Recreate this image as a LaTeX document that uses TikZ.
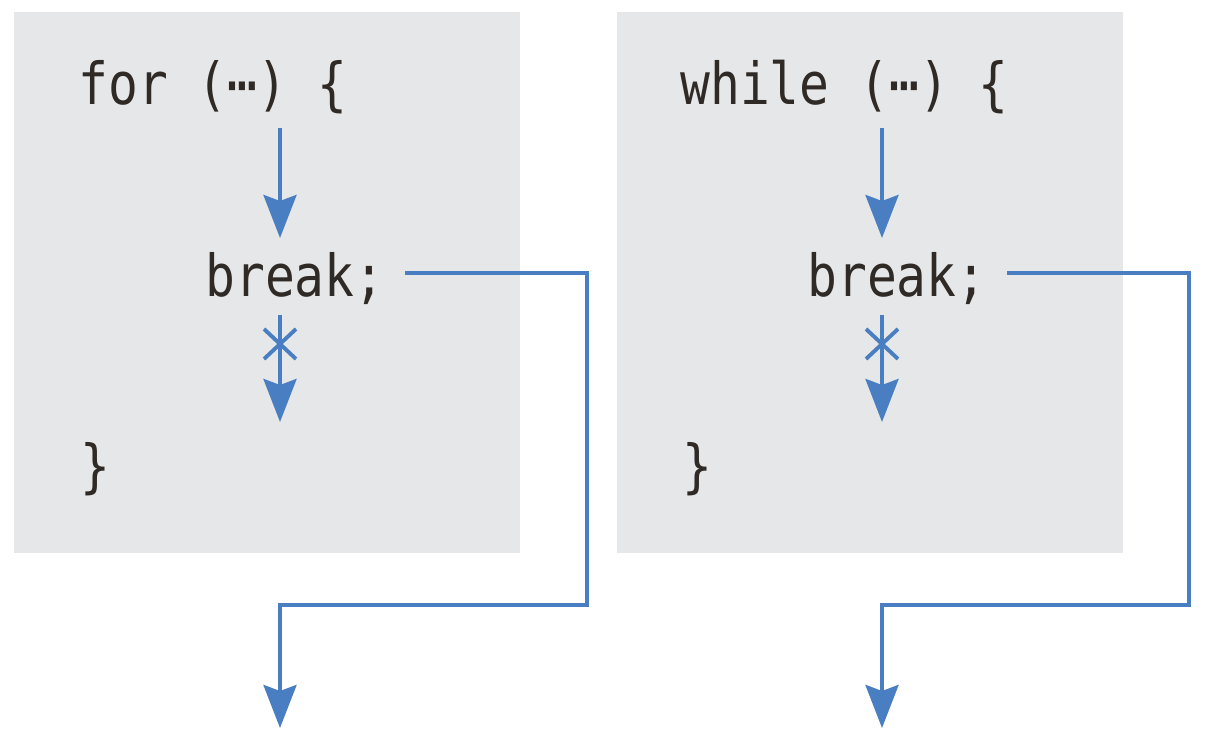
\documentclass[tikz,border=0pt]{standalone}
\usepackage{fontspec}
\setmonofont[FakeStretch=0.855]{DejaVu Sans Mono}
\usetikzlibrary{arrows.meta,positioning,calc}
\definecolor{boxgray}{HTML}{E6E7E8}
\definecolor{flowblue}{HTML}{4A7EC2}
\definecolor{codeink}{HTML}{2F2A26}
\tikzset{
  code/.style={font=\fontsize{33}{40}\selectfont\ttfamily, text=codeink, anchor=base west, inner sep=0pt},
  flow/.style={draw=flowblue, line width=2.2pt, -{Stealth[length=0.86cm,width=0.66cm,inset=0.12cm]}},
  jump/.style={draw=flowblue, line width=2.2pt}
}
\begin{document}
\begin{tikzpicture}
                \useasboundingbox (0,0) rectangle (24.16,14.98);
                % left panel: for
                \fill [boxgray] (0.28,3.92) rectangle (10.4,14.74);
                \node [code] (forhead) at (1.56,12.88) {for (⋯) \{};
                \node [code] (forbrk) at (4.1,9.04) {break;};
                \node [code] (forend) at (1.6,5.24) {\}};
                \coordinate (fora) at (5.6,12.42);
                \coordinate (forb) at (5.6,10.22);
                \coordinate (forc) at (5.6,8.68);
                \coordinate (ford) at (5.6,6.54);
                \coordinate (forx) at (5.6,8.1);
                \coordinate (forout) at (8.1,9.52);
                \coordinate (forexit) at (5.6,0.42);
                \draw [flow] (fora) -- (forb);
                \draw [flow] (forc) -- (ford);
                \draw [jump] ($(forx)+(-0.32,0.3)$) -- ($(forx)+(0.32,-0.3)$);
                \draw [jump] ($(forx)+(-0.32,-0.3)$) -- ($(forx)+(0.32,0.3)$);
                \draw [flow] (forout) -| (11.74,2.88) -| (forexit);
                % right panel: while
                \fill [boxgray] (12.34,3.92) rectangle (22.46,14.74);
                \node [code] (whlhead) at (13.6,12.88) {while (⋯) \{};
                \node [code] (whlbrk) at (16.14,9.04) {break;};
                \node [code] (whlend) at (13.64,5.24) {\}};
                \coordinate (whla) at (17.64,12.42);
                \coordinate (whlb) at (17.64,10.22);
                \coordinate (whlc) at (17.64,8.68);
                \coordinate (whld) at (17.64,6.54);
                \coordinate (whlx) at (17.64,8.1);
                \coordinate (whlout) at (20.14,9.52);
                \coordinate (whlexit) at (17.64,0.42);
                \draw [flow] (whla) -- (whlb);
                \draw [flow] (whlc) -- (whld);
                \draw [jump] ($(whlx)+(-0.32,0.3)$) -- ($(whlx)+(0.32,-0.3)$);
                \draw [jump] ($(whlx)+(-0.32,-0.3)$) -- ($(whlx)+(0.32,0.3)$);
                \draw [flow] (whlout) -| (23.78,2.88) -| (whlexit);
\end{tikzpicture}
\end{document}
